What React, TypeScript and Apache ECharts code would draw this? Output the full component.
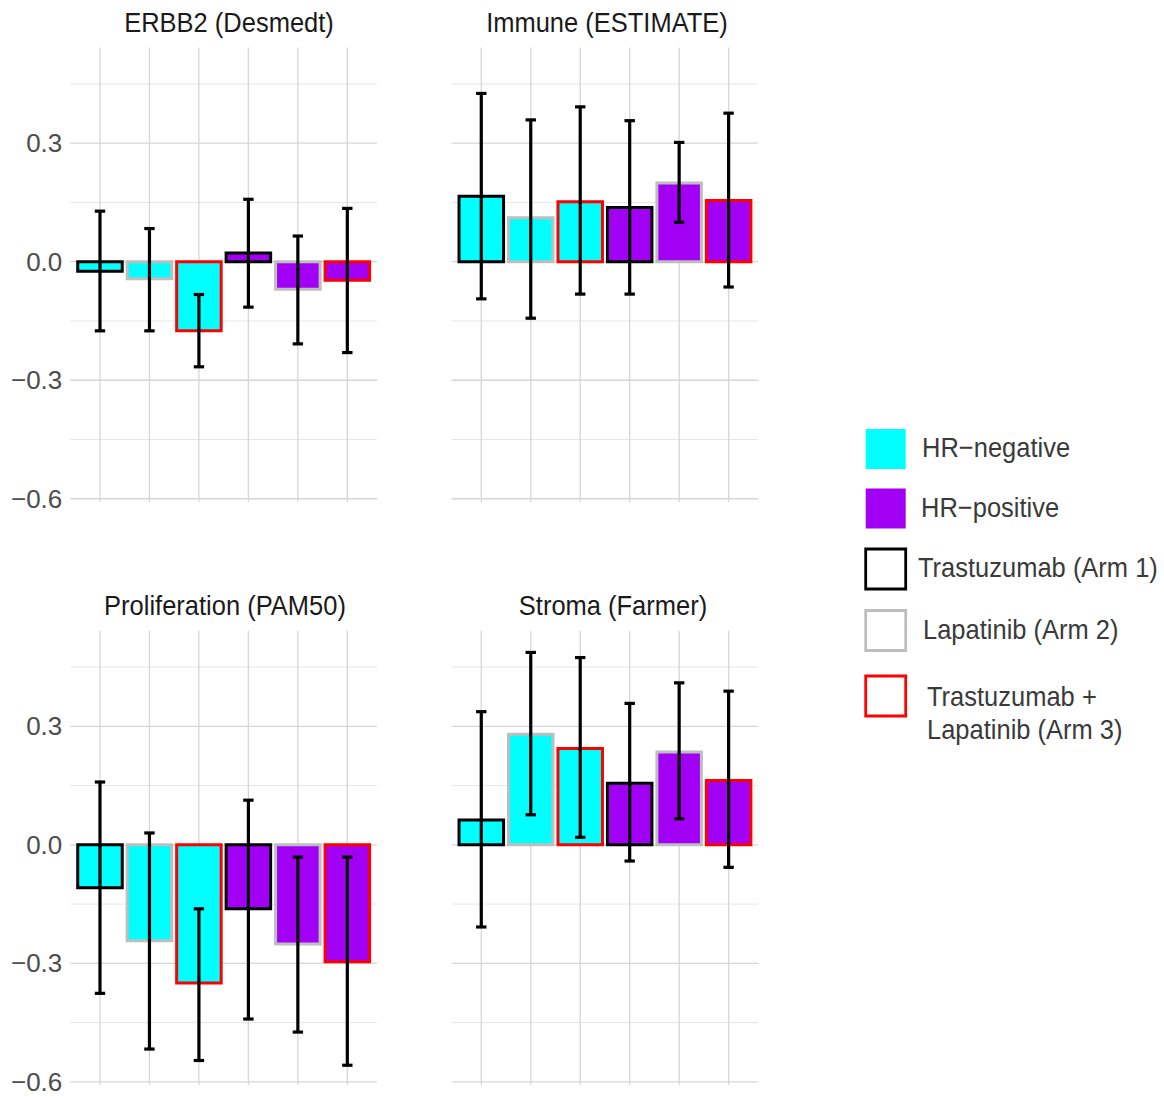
import React, { useEffect, useRef } from "react";
import * as echarts from "echarts";

// ---------- data ----------
const panelTitles = ["ERBB2 (Desmedt)", "Immune (ESTIMATE)", "Proliferation (PAM50)", "Stroma (Farmer)"];
const barPositions = [1, 2, 3, 4, 5, 6];
const hrStatus = ["HR−negative", "HR−negative", "HR−negative", "HR−positive", "HR−positive", "HR−positive"];
const arms = [
  "Trastuzumab (Arm 1)", "Lapatinib (Arm 2)", "Trastuzumab + Lapatinib (Arm 3)",
  "Trastuzumab (Arm 1)", "Lapatinib (Arm 2)", "Trastuzumab + Lapatinib (Arm 3)",
];

const erbb2Estimate = [-0.024, -0.043, -0.175, 0.022, -0.070, -0.047];
const erbb2Lower = [-0.175, -0.175, -0.266, -0.115, -0.208, -0.230];
const erbb2Upper = [0.128, 0.084, -0.083, 0.158, 0.065, 0.135];

const immuneEstimate = [0.166, 0.111, 0.152, 0.137, 0.199, 0.155];
const immuneLower = [-0.094, -0.143, -0.082, -0.082, 0.100, -0.064];
const immuneUpper = [0.426, 0.359, 0.392, 0.357, 0.302, 0.376];

const prolifEstimate = [-0.109, -0.243, -0.350, -0.162, -0.251, -0.296];
const prolifLower = [-0.376, -0.517, -0.546, -0.441, -0.474, -0.558];
const prolifUpper = [0.159, 0.030, -0.162, 0.113, -0.031, -0.031];

const stromaEstimate = [0.063, 0.280, 0.244, 0.156, 0.235, 0.163];
const stromaLower = [-0.208, 0.076, 0.019, -0.041, 0.066, -0.057];
const stromaUpper = [0.337, 0.487, 0.474, 0.358, 0.410, 0.389];

const yTickLabels = [-0.6, -0.3, 0, 0.3];
const yMinorGrid = [-0.45, -0.15, 0.15, 0.45];
const legendLabels = ["HR−negative", "HR−positive", "Trastuzumab (Arm 1)", "Lapatinib (Arm 2)", "Trastuzumab +\nLapatinib (Arm 3)"];

// ---------- styles ----------
const FONT = "'Liberation Sans', Arial, sans-serif";
const fillColor: Record<string, string> = { "HR−negative": "#00FFFF", "HR−positive": "#A200F5" };
const borderColor: Record<string, string> = {
  "Trastuzumab (Arm 1)": "#000000",
  "Lapatinib (Arm 2)": "#BEBEBE",
  "Trastuzumab + Lapatinib (Arm 3)": "#FF0000",
};
const legendStyles = [
  { fill: "#00FFFF", stroke: null },
  { fill: "#A200F5", stroke: null },
  { fill: "#FFFFFF", stroke: "#000000" },
  { fill: "#FFFFFF", stroke: "#BEBEBE" },
  { fill: "#FFFFFF", stroke: "#FF0000" },
];
const legendCenters = [449, 508.5, 569, 630.5, 696];
const legendTextX = [922, 921, 918, 923, 927];
const legendTextY = [447, 506.5, 567, 628.5, 712.4];

const Y_MIN = -0.608;
const Y_MAX = 0.542;
const X_MIN = 0.4;
const X_MAX = 6.6;

const gridRects = [
  { left: 70.3, top: 47.6, width: 306.7, height: 454.3 },
  { left: 451.6, top: 47.6, width: 306.7, height: 454.3 },
  { left: 70.3, top: 630.7, width: 306.7, height: 454.3 },
  { left: 451.6, top: 630.7, width: 306.7, height: 454.3 },
];
const titlePos = [
  [229, 22],
  [607, 22],
  [225, 605],
  [613, 605],
];

const panels = [
  { est: erbb2Estimate, lo: erbb2Lower, hi: erbb2Upper },
  { est: immuneEstimate, lo: immuneLower, hi: immuneUpper },
  { est: prolifEstimate, lo: prolifLower, hi: prolifUpper },
  { est: stromaEstimate, lo: stromaLower, hi: stromaUpper },
];

function fmt(v: number) {
  const s = Math.abs(v).toFixed(1);
  return v < -1e-9 ? "−" + s : s;
}

export default function App() {
  const ref = useRef<HTMLDivElement>(null);
  useEffect(() => {
    document.body.style.margin = "0";
    if (!ref.current) return;
    const chart = echarts.init(ref.current, null, { renderer: "svg" });

    const grid = gridRects.map((g) => ({ ...g, containLabel: false }));
    const xAxis = gridRects.map((_, i) => ({
      type: "value", gridIndex: i, min: X_MIN, max: X_MAX, show: false,
    }));
    const yAxis = gridRects.map((_, i) => ({
      type: "value", gridIndex: i, min: Y_MIN, max: Y_MAX,
      axisLine: { show: false }, axisTick: { show: false }, splitLine: { show: false },
      axisLabel: {
        show: i % 2 === 0,
        customValues: yTickLabels,
        formatter: (v: number) => fmt(v),
        color: "#4D4D4D",
        fontSize: 26,
        fontFamily: FONT,
        margin: 8,
      },
    }));

    const series: any[] = [];
    panels.forEach((p, i) => {
      // horizontal grid lines
      series.push({
        type: "custom", xAxisIndex: i, yAxisIndex: i, silent: true, z: 0,
        data: [...yTickLabels.map((v) => [X_MIN, v, 1]), ...yMinorGrid.map((v) => [X_MIN, v, 0])],
        renderItem: (params: any, api: any) => {
          const cs = params.coordSys;
          const y = api.coord([X_MIN, api.value(1)])[1];
          const major = api.value(2) === 1;
          return {
            type: "line",
            shape: { x1: cs.x, y1: y, x2: cs.x + cs.width, y2: y },
            style: { stroke: major ? "#D6D6D6" : "#E6E6E6", lineWidth: major ? 1.3 : 1 },
          };
        },
      });
      // vertical grid lines
      series.push({
        type: "custom", xAxisIndex: i, yAxisIndex: i, silent: true, z: 0,
        data: barPositions.map((x) => [x, 0]),
        renderItem: (params: any, api: any) => {
          const cs = params.coordSys;
          const x = api.coord([api.value(0), 0])[0];
          return {
            type: "line",
            shape: { x1: x, y1: cs.y, x2: x, y2: cs.y + cs.height },
            style: { stroke: "#D6D6D6", lineWidth: 1.3 },
          };
        },
      });
      // bars
      series.push({
        type: "custom", xAxisIndex: i, yAxisIndex: i, silent: true, z: 2,
        data: barPositions.map((x, k) => [x, p.est[k], k]),
        renderItem: (params: any, api: any) => {
          const x = api.value(0), v = api.value(1), k = api.value(2);
          const a = api.coord([x - 0.45, v]);
          const b = api.coord([x + 0.45, 0]);
          return {
            type: "rect",
            shape: { x: a[0], y: Math.min(a[1], b[1]), width: b[0] - a[0], height: Math.abs(b[1] - a[1]) },
            style: { fill: fillColor[hrStatus[k]], stroke: borderColor[arms[k]], lineWidth: 3, lineJoin: "miter" },
          };
        },
      });
      // error bars
      series.push({
        type: "custom", xAxisIndex: i, yAxisIndex: i, silent: true, z: 3,
        data: barPositions.map((x, k) => [x, p.lo[k], p.hi[k]]),
        renderItem: (params: any, api: any) => {
          const x = api.value(0), lo = api.value(1), hi = api.value(2);
          const pl = api.coord([x, lo]);
          const ph = api.coord([x, hi]);
          const half = api.coord([x + 0.105, 0])[0] - api.coord([x, 0])[0];
          const style = { stroke: "#000000", lineWidth: 3.2, lineCap: "butt" };
          return {
            type: "group",
            children: [
              { type: "line", shape: { x1: pl[0], y1: pl[1], x2: ph[0], y2: ph[1] }, style },
              { type: "line", shape: { x1: pl[0] - half, y1: pl[1], x2: pl[0] + half, y2: pl[1] }, style },
              { type: "line", shape: { x1: ph[0] - half, y1: ph[1], x2: ph[0] + half, y2: ph[1] }, style },
            ],
          };
        },
      });
    });

    const graphic: any[] = [];
    panelTitles.forEach((t, i) => {
      graphic.push({
        type: "text", x: titlePos[i][0], y: titlePos[i][1], scaleY: 1.12, silent: true,
        style: { text: t, fill: "#1A1A1A", font: `25.5px ${FONT}`, textAlign: "center", textVerticalAlign: "middle" },
      });
    });
    legendLabels.forEach((label, i) => {
      const st = legendStyles[i];
      graphic.push({
        type: "rect", silent: true,
        shape: { x: 865.7, y: legendCenters[i] - 20, width: 40, height: 40 },
        style: st.stroke ? { fill: st.fill, stroke: st.stroke, lineWidth: 2.8 } : { fill: st.fill },
      });
      graphic.push({
        type: "text", x: legendTextX[i], y: legendTextY[i], scaleY: 1.12, silent: true,
        style: {
          text: label, fill: "#3A3A3A", font: `25.5px ${FONT}`, textAlign: "left",
          textVerticalAlign: "middle", lineHeight: 29.6,
        },
      });
    });

    chart.setOption({
      animation: false,
      backgroundColor: "#FFFFFF",
      grid, xAxis, yAxis, series, graphic,
    });
    return () => chart.dispose();
  }, []);
  return <div ref={ref} style={{ width: 1164, height: 1097 }} />;
}
